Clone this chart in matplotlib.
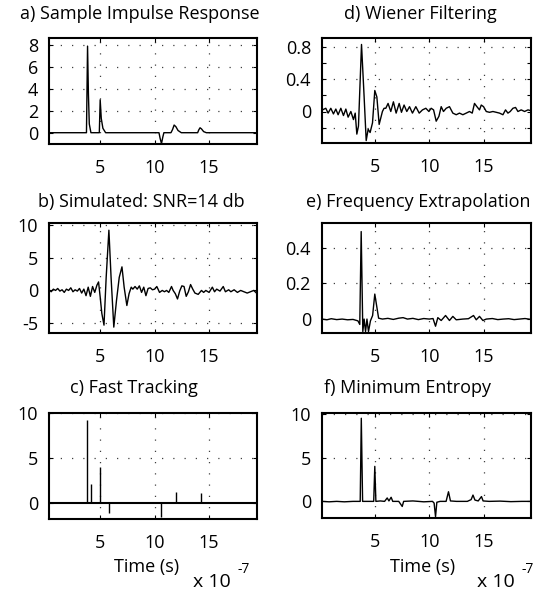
import matplotlib
matplotlib.use("Agg")
import matplotlib.pyplot as plt

plt.rcParams['font.family'] = ['Open Sans', 'DejaVu Sans']
plt.rcParams['font.size'] = 13

# a) Sample Impulse Response
a_t = [0.3, 3.74, 3.84, 3.92, 4.0, 4.15, 4.92, 5.0, 5.1, 5.25, 5.5, 10.4, 10.5, 10.63, 10.75,
       10.85, 11.5, 11.65, 11.79, 11.95, 12.15, 12.45, 13.95, 14.05, 14.17, 14.3, 14.5, 14.75, 19.4]
a_v = [0, 0, 7.9, 3.5, 0.8, 0, 0, 3.0, 1.3, 0.4, 0, 0, -0.5, -1.0, -0.4,
       0, 0, 0.3, 0.7, 0.55, 0.2, 0, 0, 0.25, 0.45, 0.35, 0.1, 0, 0]

# b) Simulated: SNR=14 db
b_t = [0.3, 0.5, 0.7, 0.9, 1.1, 1.3, 1.5, 1.7, 1.9, 2.1, 2.3, 2.5, 2.7, 2.9, 3.1, 3.3, 3.5, 3.7,
       3.9, 4.1, 4.3, 4.5, 4.7, 4.85, 5.0, 5.15, 5.35, 5.55, 5.8, 6.0, 6.25, 6.5, 6.75, 7.0, 7.2,
       7.45, 7.65, 7.85, 8.0, 8.2, 8.4, 8.6, 8.8, 9.0, 9.2, 9.4, 9.6, 9.8, 10.0, 10.2, 10.45, 10.7,
       10.9, 11.1, 11.3, 11.55, 11.7, 11.9, 12.1, 12.3, 12.5, 12.7, 12.9, 13.1, 13.3, 13.5, 13.7,
       14.0, 14.3, 14.5, 14.7, 15.0, 15.3, 15.5, 15.7, 16.0, 16.3, 16.5, 16.8, 17.0, 17.3, 17.6,
       17.9, 18.2, 18.5, 18.8, 19.1, 19.35]
b_v = [0.1, -0.2, 0.2, 0.0, 0.3, -0.1, 0.1, -0.3, 0.2, 0.0, 0.4, -0.2, 0.1, -0.1, 0.3, -0.4, 0.2,
       -0.8, 0.5, -0.9, 0.6, -0.3, 0.8, 1.3, -1.0, -3.5, -5.3, 2.0, 9.2, 2.0, -5.6, -1.5, 2.0, 3.6,
       0.5, -2.3, -0.5, 0.5, 0.2, 0.6, 0.2, 0.7, -0.3, 0.5, -0.8, 0.3, 0.4, 0.1, 0.2, 0.6, -0.3, 0.0,
       -0.2, 0.0, -0.3, 0.6, 0.0, -0.5, -1.3, -0.1, 0.7, 0.6, -0.9, -0.2, 0.9, 0.2, -0.4,
       -0.6, 0.0, -0.3, 0.0, -0.3, 0.5, -0.2, 0.2, -0.1, 0.6, -0.2, 0.1, -0.2, 0.1, -0.3,
       0.0, -0.2, -0.4, -0.2, 0.0, -0.4]

# c) Fast Tracking (Spikes)
c_t = [3.83, 4.15, 5.0, 5.83, 10.62, 11.97, 14.27]
c_v = [9.3, 2.1, 3.95, -1.2, -1.55, 1.2, 1.05]

# d) Wiener Filtering
d_t = [0.19, 0.5, 0.71, 0.96, 1.2, 1.42, 1.63, 1.88, 2.12, 2.34, 2.55, 2.8, 3.04, 3.2, 3.35, 3.5,
       3.78, 4.02, 4.21, 4.39, 4.57, 4.79, 5.0, 5.19, 5.4, 5.7, 5.85, 6.01, 6.22, 6.47, 6.71, 6.96,
       7.24, 7.45, 7.69, 7.94, 8.19, 8.46, 8.77, 9.08, 9.38, 9.69, 9.97, 10.18, 10.4, 10.64, 10.89,
       11.1, 11.31, 11.56, 11.86, 12.17, 12.48, 12.78, 13.09, 13.4, 13.7, 13.95, 14.16, 14.38,
       14.62, 14.78, 14.99, 15.24, 15.54, 15.85, 16.16, 16.46, 16.77, 17.01, 17.23, 17.44, 17.69,
       17.93, 18.15, 18.45, 18.76, 19.07, 19.35]
d_v = [0.02, 0.04, -0.02, 0.04, -0.03, 0.03, -0.04, 0.04, -0.05, 0.03, -0.07, 0.0, -0.1, -0.02,
       -0.28, -0.18, 0.83, 0.18, -0.36, -0.22, -0.26, -0.14, 0.26, 0.18, -0.16, 0.0, 0.04, 0.04,
       0.1, 0.0, 0.12, -0.02, 0.1, -0.01, 0.08, 0.0, 0.06, -0.02, 0.06, -0.02, 0.02, 0.04, 0.0,
       0.04, 0.02, -0.12, -0.06, 0.06, 0.0, 0.04, 0.06, -0.02, -0.04, -0.02, -0.04, -0.02, 0.0,
       -0.02, 0.1, 0.06, 0.02, 0.08, 0.06, 0.0, -0.01, 0.0, -0.01, -0.02, -0.04, 0.02, -0.02,
       0.0, 0.04, 0.05, 0.0, 0.02, 0.0, 0.02, 0.01]

# e) Frequency Extrapolation
e_t = [0.15, 0.6, 1.0, 1.5, 2.0, 2.5, 3.0, 3.45, 3.62, 3.75, 3.9, 4.02, 4.15, 4.28, 4.42, 4.6,
       4.8, 5.0, 5.13, 5.35, 5.7, 6.2, 6.7, 7.2, 7.6, 8.0, 8.5, 9.0, 9.5, 10.0, 10.35, 10.58,
       10.79, 11.1, 11.5, 11.86, 12.17, 12.48, 13.09, 13.6, 14.07, 14.32, 14.62, 14.93, 15.24,
       15.8, 16.3, 16.8, 17.3, 17.8, 18.3, 18.8, 19.35]
e_v = [0.0, -0.004, 0.002, -0.003, 0.0, -0.004, -0.002, -0.01, -0.03, 0.49, -0.07, 0.0, -0.07,
       0.0, -0.07, -0.01, 0.02, 0.14, 0.09, 0.005, 0.0, 0.004, -0.002, 0.005, 0.008, 0.0, 0.004,
       -0.003, 0.003, 0.0, 0.003, -0.04, 0.008, -0.008, 0.02, -0.008, 0.015, -0.004, 0.0, 0.002,
       0.02, -0.004, 0.015, -0.008, 0.0, 0.003, -0.003, 0.0, 0.002, -0.003, 0.0, 0.003, -0.002]

# f) Minimum Entropy
f_t = [0.15, 0.8, 1.5, 2.2, 3.0, 3.66, 3.76, 3.88, 4.2, 4.6, 4.9, 5.0, 5.1, 5.5, 5.9, 6.14, 6.3,
       6.5, 6.65, 7.2, 7.52, 7.65, 8.5, 9.5, 10.3, 10.45, 10.58, 10.7, 11.0, 11.55, 11.77, 11.95,
       12.5, 13.5, 13.85, 14.02, 14.2, 14.5, 14.8, 14.95, 15.5, 16.5, 17.5, 18.5, 19.35]
f_v = [0.0, -0.05, 0.0, -0.05, 0.0, 0.0, 9.5, 0.0, 0.0, 0.0, 0.0, 4.0, 0.0, 0.05, 0.0, 0.39, 0.05,
       0.47, 0.0, 0.0, -0.58, 0.0, 0.05, -0.05, 0.0, -0.2, -1.75, -0.1, 0.0, 0.0, 1.1, 0.05,
       0.0, 0.0, 0.2, 0.72, 0.15, 0.05, 0.55, 0.05, 0.0, 0.03, -0.03, 0.0, 0.0]

W, H = 538, 593
fig = plt.figure(figsize=(W / 100, H / 100), dpi=100)


def add_ax(x0, y0, x1, y1):
    # Pixelbox (oben links) -> Figurkoordinaten
    return fig.add_axes([x0 / W, 1 - y1 / H, (x1 - x0) / W, (y1 - y0) / H])


def style(ax, xlim, ylim, yticks, ylabels, hgrid):
    ax.set_xlim(*xlim)
    ax.set_ylim(*ylim)
    ax.set_xticks([5, 10, 15])
    ax.set_yticks(yticks)
    ax.set_yticklabels(ylabels)
    ax.tick_params(direction='in', length=3, width=0.8, top=True, right=True)
    ax.tick_params(axis='x', pad=10.5)
    ax.tick_params(axis='y', pad=8)
    for s in ax.spines.values():
        s.set_linewidth(1.5)
    # gepunktetes Gitter
    for xv in [5, 10, 15]:
        ax.axvline(xv, color='0.25', lw=0.9, ls=(0, (1, 8)), zorder=0)
    for yv in hgrid:
        ax.axhline(yv, color='0.25', lw=0.9, ls=(0, (1, 8)), zorder=0)


xl_left = (0.3, 19.4)
xl_right = (0.15, 19.35)

ax_a = add_ax(49, 38, 257, 144)
ax_a.plot(a_t, a_v, color='black', lw=1.0)
style(ax_a, xl_left, (-1.03, 8.64), [0, 2, 4, 6, 8], ['0', '2', '4', '6', '8'], [2, 4, 6, 8])

ax_b = add_ax(49, 223, 257, 333)
ax_b.plot(b_t, b_v, color='black', lw=1.0)
style(ax_b, xl_left, (-6.5, 10.3), [-5, 0, 5, 10], ['-5', '0', '5', '10'], [-5, 5, 10])

ax_c = add_ax(49, 413, 257, 519)
ax_c.axhline(0, color='black', lw=1.5)
ax_c.vlines(c_t, 0, c_v, color='black', lw=1.0)
style(ax_c, xl_left, (-1.83, 10.05), [0, 5, 10], ['0', '5', '10'], [5, 10])

ax_d = add_ax(322, 38, 531, 143)
ax_d.plot(d_t, d_v, color='black', lw=1.0)
style(ax_d, xl_right, (-0.39, 0.91), [-0.2, 0, 0.2, 0.4, 0.6, 0.8],
      ['', '0', '', '0.4', '', '0.8'], [-0.2, 0.4, 0.8])

ax_e = add_ax(322, 223, 531, 333)
ax_e.plot(e_t, e_v, color='black', lw=1.0)
style(ax_e, xl_right, (-0.078, 0.538), [0, 0.2, 0.4], ['0', '0.2', '0.4'], [0.2, 0.4])

ax_f = add_ax(322, 413, 531, 518)
ax_f.plot(f_t, f_v, color='black', lw=1.0)
style(ax_f, xl_right, (-1.9, 10.1), [0, 5, 10], ['0', '5', '10'], [5, 10])


def ftext(x, y, s, **kw):
    return fig.text(x / W, 1 - y / H, s, va='baseline', **kw)


# Titel
ftext(140, 19, 'a) Sample Impulse Response', ha='center')
ftext(141, 207, 'b) Simulated: SNR=14 db', ha='center')
ftext(134, 393, 'c) Fast Tracking', ha='center')
ftext(420, 19, 'd) Wiener Filtering', ha='center')
ftext(418, 207, 'e) Frequency Extrapolation', ha='center')
ftext(407, 393, 'f) Minimum Entropy', ha='center')

# Achsenbeschriftung und Skalierungsfaktor
for cx, sx in [(147, 193), (423, 477)]:
    ftext(cx, 572, 'Time (s)', ha='center')
    t = ftext(sx, 587, 'x 10', ha='left', fontsize=14)
    fig.add_artist(plt.Annotation('-7', xy=(1, 0), xycoords=t, xytext=(5, 13),
                                  textcoords='offset points', fontsize=10,
                                  ha='left', va='baseline'))

fig.savefig('out.png', dpi=100)
